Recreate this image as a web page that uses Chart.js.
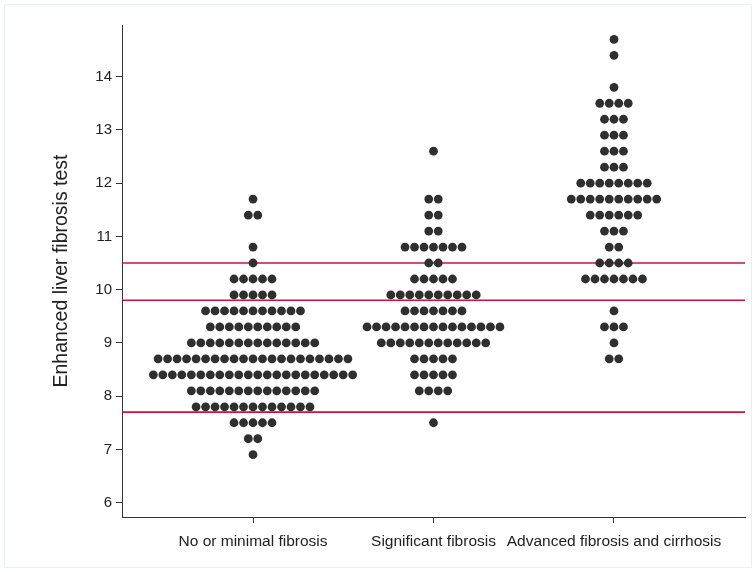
<!DOCTYPE html>
<html>
<head>
  <title>Enhanced liver fibrosis test by stage</title>
  <script src="https://cdn.jsdelivr.net/npm/chart.js"></script>
  <style>
    body { margin: 0; background: #fff; }
    #wrap { width: 756px; height: 572px; }
  </style>
</head>
<body>
<div id="wrap"><canvas id="dotChart"></canvas></div>

<script>
  // groups along the x axis
  const categories = ["No or minimal fibrosis", "Significant fibrosis", "Advanced fibrosis and cirrhosis"];

  // dot rows: value of each row and how many dots sit on it
  const levelsMinimal = [11.7, 11.4, 10.8, 10.5, 10.2, 9.9, 9.6, 9.3, 9.0, 8.7, 8.4, 8.1, 7.8, 7.5, 7.2, 6.9];
  const countsMinimal = [1, 2, 1, 1, 5, 5, 11, 10, 14, 21, 22, 14, 13, 5, 2, 1];

  const levelsSignificant = [12.6, 11.7, 11.4, 11.1, 10.8, 10.5, 10.2, 9.9, 9.6, 9.3, 9.0, 8.7, 8.4, 8.1, 7.5];
  const countsSignificant = [1, 2, 2, 2, 7, 2, 5, 10, 7, 15, 12, 5, 5, 4, 1];

  const levelsAdvanced = [14.7, 14.4, 13.8, 13.5, 13.2, 12.9, 12.6, 12.3, 12.0, 11.7, 11.4, 11.1, 10.8, 10.5, 10.2, 9.6, 9.3, 9.0, 8.7];
  const countsAdvanced = [1, 1, 1, 4, 3, 3, 3, 3, 8, 10, 6, 3, 2, 4, 7, 1, 3, 1, 2];

  // horizontal cut-off lines
  const cutoffs = [10.5, 9.8, 7.7];

  const yTicks = [6, 7, 8, 9, 10, 11, 12, 13, 14];

  const X_MIN = 0.274, X_MAX = 3.726;
  const Y_MIN = 5.73, Y_MAX = 14.97;
  const DOT_STEP = 0.0526; // horizontal gap between dots in a row (x units)

  function buildDots(groupIndex, levels, counts) {
    const pts = [];
    levels.forEach((v, r) => {
      const n = counts[r];
      for (let i = 0; i < n; i++) {
        pts.push({ x: groupIndex + 1 + (i - (n - 1) / 2) * DOT_STEP, y: v });
      }
    });
    return pts;
  }

  const dots = [
    ...buildDots(0, levelsMinimal, countsMinimal),
    ...buildDots(1, levelsSignificant, countsSignificant),
    ...buildDots(2, levelsAdvanced, countsAdvanced)
  ];

  const cutoffSets = cutoffs.map(c => ({
    type: "line",
    data: [{ x: X_MIN, y: c }, { x: X_MAX, y: c }],
    borderColor: "#c8143c",
    borderWidth: 1.6,
    pointRadius: 0,
    fill: false,
    order: 2
  }));

  // faint outer frame like the original graph region
  const framePlugin = {
    id: "frame",
    beforeDraw(chart) {
      const ctx = chart.ctx;
      ctx.save();
      ctx.fillStyle = "#ffffff";
      ctx.fillRect(0, 0, chart.width, chart.height);
      ctx.strokeStyle = "#eaeff2";
      ctx.lineWidth = 1;
      ctx.strokeRect(4.5, 4.5, chart.width - 9, chart.height - 9);
      ctx.restore();
    }
  };

  const ctx = document.getElementById("dotChart").getContext("2d");
  new Chart(ctx, {
    type: "scatter",
    data: {
      datasets: [
        ...cutoffSets,
        {
          label: "ELF",
          data: dots,
          backgroundColor: "#2f2f2f",
          borderWidth: 0,
          pointRadius: 4.4,
          pointHoverRadius: 4.4,
          order: 1
        }
      ]
    },
    options: {
      responsive: true,
      maintainAspectRatio: false,
      animation: false,
      layout: { padding: { left: 50, top: 25, right: 11, bottom: 0 } },
      plugins: {
        legend: { display: false },
        tooltip: { enabled: false }
      },
      scales: {
        x: {
          type: "linear",
          min: X_MIN,
          max: X_MAX,
          afterBuildTicks: scale => { scale.ticks = categories.map((c, i) => ({ value: i + 1 })); },
          afterFit: scale => { scale.height = 55; },
          ticks: {
            callback: v => categories[Math.round(v) - 1],
            color: "#222",
            font: { family: "Liberation Sans", size: 15.5 },
            padding: 9,
            maxRotation: 0,
            autoSkip: false
          },
          grid: { drawOnChartArea: false, tickLength: 6, tickColor: "#333" },
          border: { color: "#333", width: 1 }
        },
        y: {
          min: Y_MIN,
          max: Y_MAX,
          afterBuildTicks: scale => { scale.ticks = yTicks.map(v => ({ value: v })); },
          afterFit: scale => { scale.width = 72; },
          ticks: {
            color: "#222",
            font: { family: "Liberation Sans", size: 15 },
            padding: 4
          },
          grid: { drawOnChartArea: false, tickLength: 6, tickColor: "#333" },
          border: { color: "#333", width: 1 },
          title: {
            display: true,
            text: "Enhanced liver fibrosis test",
            color: "#222",
            font: { family: "Liberation Sans", size: 19.5 },
            padding: 0
          }
        }
      }
    },
    plugins: [framePlugin]
  });
</script>
</body>
</html>
